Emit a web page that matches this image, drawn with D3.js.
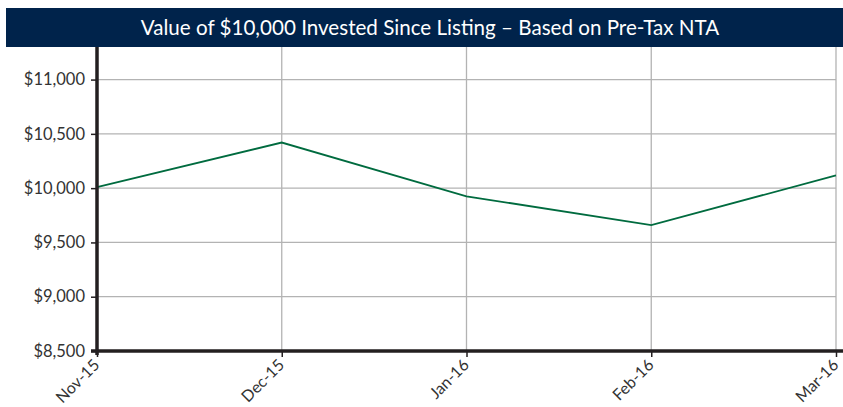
<!DOCTYPE html>
<html lang="en">
<head>
    <meta charset="UTF-8">
    <script type="text/javascript" src="https://d3js.org/d3.v7.min.js"></script>
    <title>Value of $10,000 Invested</title>
    <style>
        body { margin: 0; background: #fff; }
        text { font-family: Lato, "Open Sans", sans-serif; }
    </style>
</head>
<body>
    <svg id="plot"></svg>
    <script>
        const months = ["Nov-15", "Dec-15", "Jan-16", "Feb-16", "Mar-16"];
        const values = [10010, 10420, 9925, 9660, 10117];
        const yTicks = [8500, 9000, 9500, 10000, 10500, 11000];
        const title = "Value of $10,000 Invested Since Listing \u2013 Based on Pre-Tax NTA";

        const width = 843;
        const height = 407;
        const margin = {"top": 47, "bottom": 56, "left": 97, "right": 7};
        const svg = d3.select("#plot").attr("width", width).attr("height", height);

        var x = d3.scalePoint()
            .domain(months)
            .range([margin.left, width - margin.right]);
        var y = d3.scaleLinear()
            .domain([8500, 11300])
            .range([height - margin.bottom, margin.top]);

        // grid
        svg.append("g").selectAll("line").data(yTicks.slice(1)).join("line")
            .attr("x1", margin.left).attr("x2", width - margin.right)
            .attr("y1", d => y(d)).attr("y2", d => y(d))
            .attr("stroke", "#b3b3b3").attr("stroke-width", 1.3);
        svg.append("g").selectAll("line").data(months.slice(1)).join("line")
            .attr("x1", d => x(d)).attr("x2", d => x(d))
            .attr("y1", margin.top).attr("y2", height - margin.bottom)
            .attr("stroke", "#b3b3b3").attr("stroke-width", 1.3);

        // title bar
        svg.append("rect").attr("x", 6).attr("y", 8).attr("width", width - 6).attr("height", 39)
            .attr("fill", "#00234b");
        svg.append("text").attr("x", 430).attr("y", 34.5).attr("text-anchor", "middle")
            .attr("fill", "#fff").attr("font-size", 20.6).text(title);

        // line
        var line = d3.line()
            .x((d, i) => x(months[i]))
            .y(d => y(d));
        svg.append("path").attr("d", line(values))
            .attr("fill", "none").attr("stroke", "#006b3f").attr("stroke-width", 1.8);

        // axes
        var y_axis = d3.axisLeft(y).tickValues(yTicks).tickSize(6).tickPadding(6)
            .tickFormat(d => "$" + d3.format(",")(d));
        svg.append("g").attr("transform", `translate(${margin.left}, 0)`).call(y_axis)
            .call(g => g.select(".domain").remove())
            .call(g => g.selectAll(".tick line").attr("stroke", "#231f20").attr("stroke-width", 1.5))
            .call(g => g.selectAll("text").attr("font-size", 16.5).attr("fill", "#333")
                .style("font-family", "Lato, sans-serif"));

        var x_axis = d3.axisBottom(x).tickSize(6).tickPadding(4);
        svg.append("g").attr("transform", `translate(0, ${height - margin.bottom})`).call(x_axis)
            .call(g => g.select(".domain").remove())
            .call(g => g.selectAll(".tick line").attr("stroke", "#231f20").attr("stroke-width", 1.5))
            .call(g => g.selectAll("text").attr("font-size", 16).attr("fill", "#333")
                .style("font-family", "Lato, sans-serif")
                .attr("text-anchor", "end").attr("dy", null).attr("y", 0).attr("x", 0)
                .attr("transform", "translate(3,15) rotate(-45)"));

        // thick axis lines
        svg.append("line").attr("x1", margin.left).attr("x2", margin.left)
            .attr("y1", margin.top).attr("y2", height - margin.bottom + 4)
            .attr("stroke", "#231f20").attr("stroke-width", 3.5);
        svg.append("line").attr("x1", margin.left - 6).attr("x2", width)
            .attr("y1", height - margin.bottom).attr("y2", height - margin.bottom)
            .attr("stroke", "#231f20").attr("stroke-width", 3.5);
    </script>
</body>
</html>
